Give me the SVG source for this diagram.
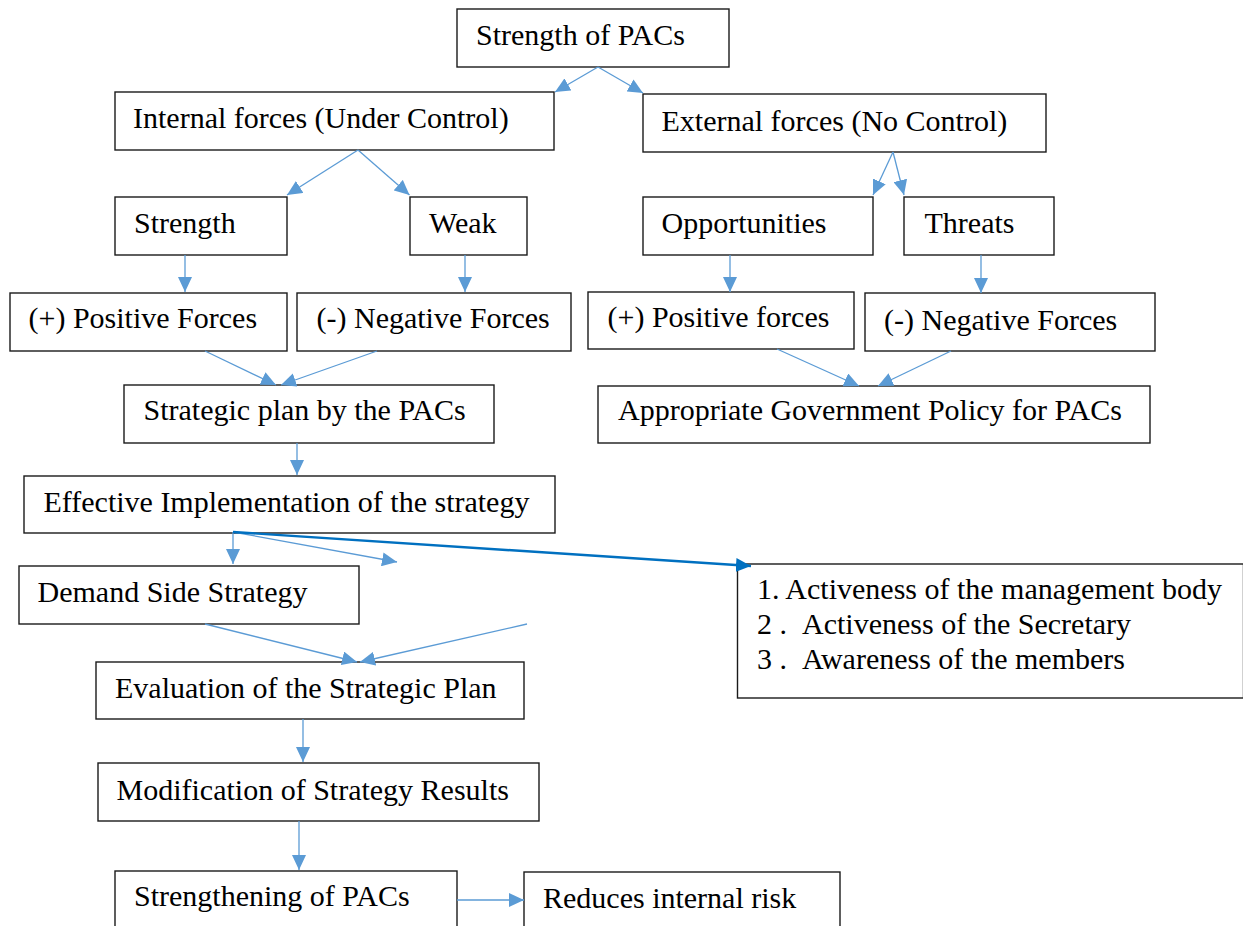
<svg xmlns="http://www.w3.org/2000/svg" width="1243" height="926" viewBox="0 0 1243 926">
<style>
.box{fill:#fff;stroke:#1a1a1a;stroke-width:1.4}
.t{font-family:"Liberation Serif","Times New Roman",serif;font-size:30px;fill:#000}
.c{fill:none;stroke:#5B9BD5;stroke-width:1.3;marker-end:url(#ah)}
.ck{fill:none;stroke:#0070C0;stroke-width:2.4;marker-end:url(#ahk)}
</style>
<defs>
<marker id="ah" markerUnits="userSpaceOnUse" markerWidth="15" markerHeight="14" refX="15" refY="7" orient="auto">
<path d="M0,0 L15,7 L0,14 z" fill="#5B9BD5"/>
</marker>
<marker id="ahk" markerUnits="userSpaceOnUse" markerWidth="15" markerHeight="14" refX="15" refY="7" orient="auto">
<path d="M0,0 L15,7 L0,14 z" fill="#0070C0"/>
</marker>
</defs>
<rect width="1243" height="926" fill="#fff"/>
<g id="n-strength-pacs"><rect class="box" x="457" y="9" width="272" height="58"/><text class="t" x="476" y="45">Strength of PACs</text></g>
<g id="n-internal"><rect class="box" x="115" y="92" width="439" height="58"/><text class="t" x="133" y="128">Internal forces (Under Control)</text></g>
<g id="n-external"><rect class="box" x="643" y="94" width="403" height="58"/><text class="t" x="661.5" y="131">External forces (No Control)</text></g>
<g id="n-strength"><rect class="box" x="115" y="197" width="172" height="58"/><text class="t" x="134" y="233">Strength</text></g>
<g id="n-weak"><rect class="box" x="410" y="197" width="117" height="58"/><text class="t" x="429" y="233">Weak</text></g>
<g id="n-opportunities"><rect class="box" x="643" y="197" width="230" height="58"/><text class="t" x="661.5" y="233">Opportunities</text></g>
<g id="n-threats"><rect class="box" x="904" y="197" width="150" height="58"/><text class="t" x="924.5" y="233">Threats</text></g>
<g id="n-pos1"><rect class="box" x="10" y="293" width="277" height="58"/><text class="t" x="28.5" y="328">(+) Positive Forces</text></g>
<g id="n-neg1"><rect class="box" x="297" y="293" width="274" height="58"/><text class="t" x="316.5" y="328">(-) Negative Forces</text></g>
<g id="n-pos2"><rect class="box" x="588" y="292" width="266" height="57"/><text class="t" x="607.5" y="327">(+) Positive forces</text></g>
<g id="n-neg2"><rect class="box" x="865" y="293" width="290" height="58"/><text class="t" x="884" y="329.5">(-) Negative Forces</text></g>
<g id="n-strategic"><rect class="box" x="124" y="385" width="370" height="58"/><text class="t" x="143.5" y="420">Strategic plan by the PACs</text></g>
<g id="n-appropriate"><rect class="box" x="598" y="386" width="552" height="57"/><text class="t" x="618" y="420">Appropriate Government Policy for PACs</text></g>
<g id="n-effective"><rect class="box" x="24" y="476" width="531" height="57"/><text class="t" x="43.5" y="512">Effective Implementation of the strategy</text></g>
<g id="n-demand"><rect class="box" x="19" y="566" width="340" height="58"/><text class="t" x="37.5" y="602">Demand Side Strategy</text></g>
<g id="n-list"><rect class="box" x="737.5" y="564" width="506" height="134"/>
<text class="t" x="757" y="599">1. Activeness of the management body</text>
<text class="t" y="634"><tspan x="757">2 .</tspan><tspan x="802">Activeness of the Secretary</tspan></text>
<text class="t" y="668.5"><tspan x="757">3 .</tspan><tspan x="802">Awareness of the members</tspan></text>
</g>
<g id="n-evaluation"><rect class="box" x="96" y="662" width="428" height="57"/><text class="t" x="115" y="698">Evaluation of the Strategic Plan</text></g>
<g id="n-modification"><rect class="box" x="98" y="763" width="441" height="58"/><text class="t" x="116.5" y="800">Modification of Strategy Results</text></g>
<g id="n-strengthening"><rect class="box" x="115" y="871" width="342" height="62"/><text class="t" x="134" y="906">Strengthening of PACs</text></g>
<g id="n-reduces"><rect class="box" x="524" y="872" width="316" height="62"/><text class="t" x="543" y="908">Reduces internal risk</text></g>
<g id="connectors">
<line class="c" x1="598" y1="67" x2="555" y2="92"/>
<line class="c" x1="598" y1="67" x2="643" y2="93"/>
<line class="c" x1="358" y1="150" x2="287" y2="195"/>
<line class="c" x1="358" y1="150" x2="409.5" y2="195"/>
<line class="c" x1="893" y1="152" x2="873" y2="195"/>
<line class="c" x1="893" y1="152" x2="904" y2="195"/>
<line class="c" x1="185" y1="255" x2="185" y2="292"/>
<line class="c" x1="465" y1="255" x2="465" y2="292"/>
<line class="c" x1="730" y1="255" x2="730" y2="292"/>
<line class="c" x1="981" y1="255" x2="981" y2="293"/>
<line class="c" x1="205" y1="351" x2="276" y2="385"/>
<line class="c" x1="377" y1="351" x2="281" y2="385"/>
<line class="c" x1="777" y1="349" x2="859" y2="386"/>
<line class="c" x1="951" y1="351" x2="878" y2="386"/>
<line class="c" x1="297" y1="443" x2="297" y2="475"/>
<line class="c" x1="233" y1="532" x2="233" y2="564"/>
<line class="c" x1="233" y1="532" x2="397" y2="562"/>
<line class="ck" x1="233" y1="532" x2="751" y2="566"/>
<line class="c" x1="205" y1="624" x2="357" y2="662"/>
<line class="c" x1="527" y1="624" x2="360" y2="662"/>
<line class="c" x1="303" y1="719" x2="303" y2="762"/>
<line class="c" x1="299" y1="821" x2="299" y2="870"/>
<line class="c" x1="457" y1="900" x2="524" y2="900"/>
</g>
</svg>
